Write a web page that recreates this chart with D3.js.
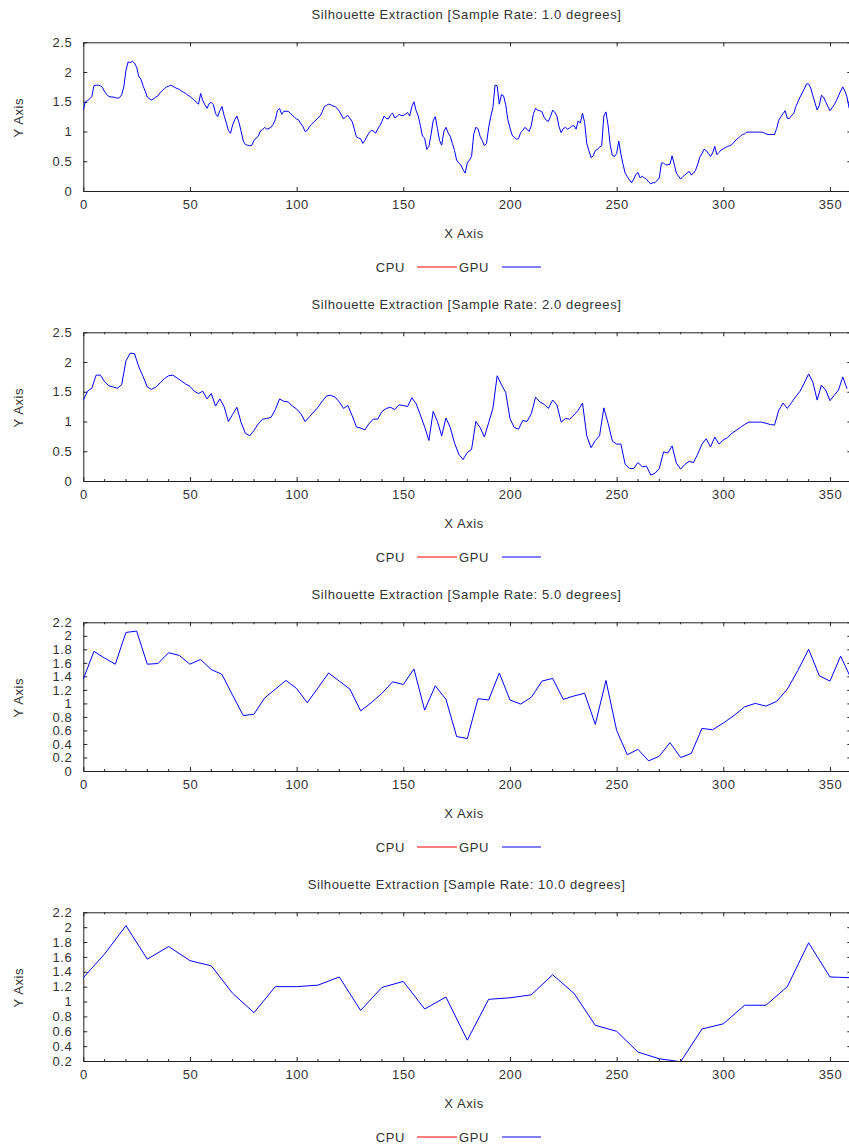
<!DOCTYPE html>
<html>
<head>
<meta charset="utf-8">
<script src="https://cdn.jsdelivr.net/npm/d3@7"></script>
<style>
  body { margin: 0; background: #fff; }
  text { font-family: "Liberation Sans", Arial, sans-serif; font-size: 13px; fill: #333; letter-spacing: 0.6px; }
</style>
</head>
<body>
<svg id="chart" width="849" height="1147"></svg>
<script>
// GPU timings, one array per sample rate
var gpu1 = [
  1.36, 1.50, 1.52, 1.55, 1.59, 1.77, 1.78, 1.78, 1.77, 1.74,
  1.67, 1.62, 1.59, 1.58, 1.58, 1.57, 1.56, 1.57, 1.62, 1.75,
  2.03, 2.17, 2.16, 2.18, 2.15, 2.08, 1.93, 1.88, 1.77, 1.68,
  1.58, 1.55, 1.53, 1.55, 1.58, 1.60, 1.65, 1.69, 1.72, 1.75,
  1.76, 1.78, 1.76, 1.74, 1.72, 1.71, 1.68, 1.66, 1.64, 1.61,
  1.59, 1.56, 1.53, 1.49, 1.46, 1.64, 1.52, 1.45, 1.39, 1.47,
  1.49, 1.45, 1.30, 1.25, 1.35, 1.42, 1.27, 1.15, 1.02, 0.97,
  1.11, 1.20, 1.26, 1.15, 1.00, 0.84, 0.78, 0.77, 0.76, 0.77,
  0.85, 0.89, 0.92, 1.01, 1.03, 1.07, 1.04, 1.05, 1.07, 1.12,
  1.20, 1.35, 1.39, 1.29, 1.34, 1.34, 1.34, 1.31, 1.27, 1.24,
  1.21, 1.19, 1.13, 1.08, 1.00, 1.02, 1.08, 1.12, 1.16, 1.19,
  1.23, 1.26, 1.33, 1.42, 1.44, 1.46, 1.45, 1.43, 1.42, 1.39,
  1.34, 1.28, 1.21, 1.25, 1.27, 1.22, 1.17, 1.05, 0.91, 0.89,
  0.88, 0.80, 0.85, 0.92, 0.98, 1.02, 1.01, 0.97, 1.04, 1.10,
  1.17, 1.26, 1.22, 1.21, 1.28, 1.31, 1.23, 1.25, 1.29, 1.27,
  1.27, 1.29, 1.32, 1.26, 1.42, 1.50, 1.35, 1.26, 1.10, 0.92,
  0.89, 0.70, 0.75, 0.95, 1.18, 1.25, 1.05, 0.85, 0.77, 1.00,
  1.07, 0.98, 0.92, 0.80, 0.68, 0.52, 0.47, 0.44, 0.36, 0.30,
  0.47, 0.52, 0.58, 0.95, 1.07, 1.05, 0.92, 0.85, 0.76, 0.80,
  1.06, 1.25, 1.40, 1.78, 1.77, 1.46, 1.62, 1.60, 1.45, 1.20,
  1.06, 0.94, 0.90, 0.87, 0.88, 0.98, 1.02, 1.07, 1.04, 1.00,
  1.10, 1.30, 1.39, 1.36, 1.35, 1.33, 1.24, 1.19, 1.17, 1.25,
  1.36, 1.32, 1.26, 1.08, 0.98, 1.05, 1.07, 1.04, 1.06, 1.09,
  1.10, 1.04, 1.18, 1.14, 1.31, 1.15, 0.80, 0.68, 0.56, 0.59,
  0.68, 0.70, 0.74, 0.76, 1.26, 1.33, 1.10, 0.77, 0.60, 0.58,
  0.63, 0.84, 0.62, 0.45, 0.30, 0.24, 0.19, 0.14, 0.20, 0.28,
  0.31, 0.22, 0.25, 0.22, 0.20, 0.15, 0.12, 0.14, 0.14, 0.18,
  0.22, 0.47, 0.47, 0.44, 0.44, 0.45, 0.59, 0.45, 0.30, 0.25,
  0.20, 0.24, 0.27, 0.30, 0.33, 0.27, 0.30, 0.35, 0.45, 0.57,
  0.63, 0.70, 0.68, 0.63, 0.58, 0.64, 0.75, 0.61, 0.65, 0.69,
  0.71, 0.73, 0.75, 0.76, 0.78, 0.82, 0.86, 0.89, 0.92, 0.95,
  0.96, 0.99, 0.99, 0.99, 0.99, 0.99, 0.99, 0.99, 0.99, 0.98,
  0.96, 0.95, 0.95, 0.95, 0.95, 1.05, 1.19, 1.25, 1.30, 1.35,
  1.22, 1.22, 1.27, 1.30, 1.42, 1.50, 1.58, 1.65, 1.72, 1.80,
  1.80, 1.73, 1.60, 1.48, 1.36, 1.44, 1.61, 1.58, 1.50, 1.42,
  1.35, 1.40, 1.45, 1.52, 1.60, 1.68, 1.75, 1.68, 1.58, 1.39
];

var gpu2 = [
  1.36, 1.51, 1.56, 1.78, 1.78, 1.67, 1.60, 1.58, 1.56, 1.62,
  2.02, 2.15, 2.14, 1.92, 1.76, 1.58, 1.54, 1.58, 1.65, 1.72,
  1.77, 1.78, 1.73, 1.68, 1.63, 1.59, 1.51, 1.47, 1.51, 1.38,
  1.47, 1.26, 1.38, 1.25, 1.00, 1.12, 1.24, 0.98, 0.80, 0.76,
  0.85, 0.96, 1.04, 1.05, 1.07, 1.20, 1.38, 1.34, 1.33, 1.26,
  1.21, 1.13, 1.00, 1.08, 1.16, 1.24, 1.34, 1.43, 1.44, 1.41,
  1.33, 1.22, 1.27, 1.10, 0.91, 0.89, 0.86, 0.97, 1.04, 1.04,
  1.17, 1.22, 1.24, 1.20, 1.28, 1.27, 1.25, 1.40, 1.30, 1.11,
  0.91, 0.68, 1.17, 1.00, 0.76, 1.06, 0.90, 0.64, 0.45, 0.36,
  0.48, 0.53, 1.00, 0.90, 0.74, 0.98, 1.22, 1.77, 1.62, 1.49,
  1.05, 0.90, 0.87, 1.02, 1.00, 1.13, 1.41, 1.33, 1.29, 1.22,
  1.36, 1.28, 0.99, 1.05, 1.04, 1.11, 1.19, 1.31, 0.76, 0.56,
  0.68, 0.76, 1.23, 0.97, 0.67, 0.62, 0.62, 0.28, 0.21, 0.21,
  0.31, 0.24, 0.25, 0.10, 0.13, 0.21, 0.49, 0.47, 0.59, 0.30,
  0.20, 0.28, 0.33, 0.31, 0.45, 0.62, 0.71, 0.57, 0.74, 0.62,
  0.69, 0.73, 0.80, 0.85, 0.90, 0.95, 0.99, 0.99, 0.99, 0.99,
  0.97, 0.95, 0.94, 1.19, 1.31, 1.22, 1.32, 1.42, 1.51, 1.65,
  1.80, 1.66, 1.36, 1.61, 1.53, 1.35, 1.44, 1.53, 1.75, 1.55
];

var gpu5 = [
  1.36, 1.77, 1.67, 1.58, 2.05, 2.07, 1.58, 1.59, 1.75, 1.71,
  1.58, 1.65, 1.50, 1.43, 1.12, 0.82, 0.84, 1.08, 1.21, 1.34,
  1.22, 1.01, 1.23, 1.45, 1.33, 1.21, 0.89, 1.01, 1.15, 1.32,
  1.28, 1.51, 0.90, 1.26, 1.06, 0.51, 0.48, 1.07, 1.05, 1.45,
  1.05, 0.99, 1.09, 1.33, 1.37, 1.06, 1.11, 1.15, 0.69, 1.34,
  0.60, 0.24, 0.32, 0.15, 0.22, 0.42, 0.20, 0.26, 0.63, 0.61,
  0.71, 0.82, 0.95, 1.00, 0.96, 1.03, 1.21, 1.49, 1.80, 1.41,
  1.33, 1.70, 1.36
];

var gpu10 = [
  1.32, 1.64, 2.02, 1.57, 1.74, 1.55, 1.48, 1.11, 0.85, 1.20,
  1.20, 1.22, 1.33, 0.88, 1.19, 1.27, 0.90, 1.06, 0.48, 1.03,
  1.05, 1.09, 1.36, 1.11, 0.68, 0.60, 0.32, 0.23, 0.19, 0.63,
  0.70, 0.95, 0.95, 1.20, 1.79, 1.33, 1.32
];

var sampleRates = [1.0, 2.0, 5.0, 10.0];
var series = [gpu1, gpu2, gpu5, gpu10];
var yDomains = [[0, 2.5], [0, 2.5], [0, 2.2], [0.2, 2.2]];
var yTickValues = [
  [0, 0.5, 1, 1.5, 2, 2.5],
  [0, 0.5, 1, 1.5, 2, 2.5],
  [0, 0.2, 0.4, 0.6, 0.8, 1, 1.2, 1.4, 1.6, 1.8, 2, 2.2],
  [0.2, 0.4, 0.6, 0.8, 1, 1.2, 1.4, 1.6, 1.8, 2, 2.2]
];
var xTickValues = [0, 50, 100, 150, 200, 250, 300, 350];
var xMinorTicks = [false, true, true, true];
var legendNames = ["CPU", "GPU"];
var legendColors = ["#ff0000", "#0000ff"];

var svg = d3.select("#chart");
var left = 83.3, plotW = 768, plotH = 148.7, firstTop = 42.3, gap = 290;

var x = d3.scaleLinear().domain([0, 360]).range([0, plotW]);

series.forEach(function(vals, p) {
  var top = firstTop + p * gap;
  var y = d3.scaleLinear().domain(yDomains[p]).range([plotH, 0]);
  var g = svg.append("g").attr("transform", "translate(" + left + "," + top + ")");

  g.append("clipPath").attr("id", "clip" + p)
    .append("rect").attr("width", plotW).attr("height", plotH);

  // axes, ticks pointing inwards like the original
  var minor = xMinorTicks[p] ? d3.range(0, 361, 10).filter(function(v) { return v % 50; }) : [];
  function xAxis(axisFn, ty, labels) {
    var a = g.append("g").attr("transform", "translate(0," + ty + ")");
    a.call(axisFn(x).tickValues(xTickValues).tickSizeInner(-4).tickSizeOuter(0)
      .tickPadding(9).tickFormat(labels ? d3.format("d") : ""));
    a.selectAll(".tick").filter(function() { return false; });
    minor.forEach(function(v) {
      a.append("line").attr("x1", x(v)).attr("x2", x(v)).attr("y1", 0)
        .attr("y2", axisFn === d3.axisBottom ? -2 : 2).attr("stroke", "#222");
    });
    return a;
  }
  var xb = xAxis(d3.axisBottom, plotH, true);
  xb.selectAll(".tick line").attr("y2", -4);
  var xt = xAxis(d3.axisTop, 0, false);
  xt.selectAll(".tick line").attr("y2", 4);

  var yl = g.append("g").call(d3.axisLeft(y).tickValues(yTickValues[p]).tickSizeInner(-4)
    .tickSizeOuter(0).tickPadding(11).tickFormat(d3.format("")));
  var yr = g.append("g").attr("transform", "translate(" + plotW + ",0)")
    .call(d3.axisRight(y).tickValues(yTickValues[p]).tickSizeInner(-4).tickSizeOuter(0).tickFormat(""));

  g.selectAll(".domain").attr("stroke", "#222");
  g.selectAll(".tick line").attr("stroke", "#222");
  g.selectAll(".tick text").attr("fill", "#333").style("font-size", "13px")
    .style("font-family", '"Liberation Sans", Arial, sans-serif');

  // data line
  var line = d3.line()
    .x(function(d, i) { return x(i * sampleRates[p]); })
    .y(function(d) { return y(d); });
  g.append("path").datum(vals)
    .attr("clip-path", "url(#clip" + p + ")")
    .attr("fill", "none").attr("stroke", "#0000ff").attr("stroke-width", 1)
    .attr("d", line);

  // texts
  svg.append("text").attr("x", 466.5).attr("y", top - 23.5).attr("text-anchor", "middle")
    .text("Silhouette Extraction [Sample Rate: " + sampleRates[p].toFixed(1) + " degrees]");
  svg.append("text").attr("x", 464).attr("y", top + plotH + 46.5).attr("text-anchor", "middle")
    .text("X Axis");
  svg.append("text").attr("text-anchor", "middle")
    .attr("transform", "translate(22.5," + (top + plotH / 2 + 1) + ") rotate(-90)")
    .text("Y Axis");

  // legend
  var ly = top + plotH + 76;
  svg.append("text").attr("x", 405).attr("y", ly + 4.6).attr("text-anchor", "end").text(legendNames[0]);
  svg.append("line").attr("x1", 417).attr("x2", 457).attr("y1", ly).attr("y2", ly)
    .attr("stroke", legendColors[0]).attr("stroke-width", 1);
  svg.append("text").attr("x", 459).attr("y", ly + 4.6).text(legendNames[1]);
  svg.append("line").attr("x1", 502).attr("x2", 541).attr("y1", ly).attr("y2", ly)
    .attr("stroke", legendColors[1]).attr("stroke-width", 1);
});
</script>
</body>
</html>
